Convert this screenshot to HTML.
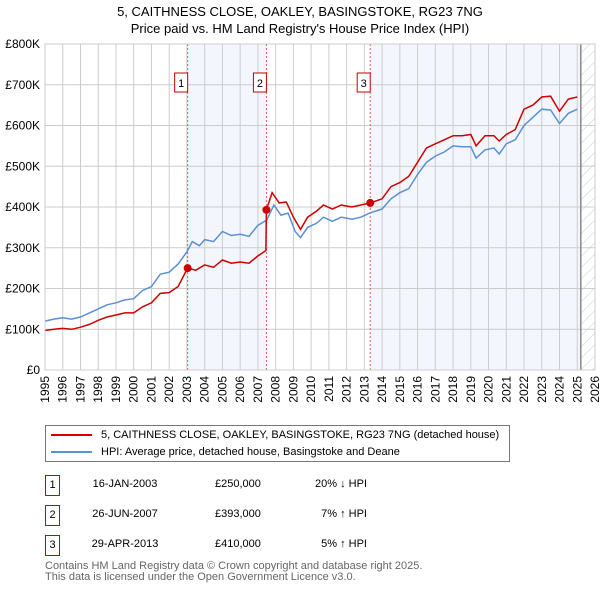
<!DOCTYPE html>
<html><head><meta charset="utf-8">
<style>
body{margin:0;background:#fff;font-family:"Liberation Sans","DejaVu Sans",sans-serif;}
#wrap{position:relative;width:600px;height:590px;overflow:hidden}
.t{position:absolute;font-size:12px;color:#000}
</style></head><body>
<div id="wrap">
<div class="t" style="left:0;width:600px;top:3px;text-align:center;font-size:13px;line-height:17px">5, CAITHNESS CLOSE, OAKLEY, BASINGSTOKE, RG23 7NG<br>Price paid vs. HM Land Registry's House Price Index (HPI)</div>
<svg id="chart" width="600" height="420" style="position:absolute;left:0;top:0"></svg>
<div style="position:absolute;left:45px;top:425px;width:463px;height:35px;border:1px solid #777;font-size:11px;white-space:nowrap">
 <div style="position:absolute;left:5px;top:3px"><span style="display:inline-block;width:41px;height:2px;background:#cc0000;vertical-align:middle;margin-right:9px"></span>5, CAITHNESS CLOSE, OAKLEY, BASINGSTOKE, RG23 7NG (detached house)</div>
 <div style="position:absolute;left:5px;top:20px"><span style="display:inline-block;width:41px;height:2px;background:#5b8fd6;vertical-align:middle;margin-right:9px"></span>HPI: Average price, detached house, Basingstoke and Deane</div>
</div>
<div id="tbl"></div>
<div class="t" style="left:45px;top:561px;font-size:11px;color:#666;line-height:11px;white-space:nowrap">Contains HM Land Registry data © Crown copyright and database right 2025.<br>This data is licensed under the Open Government Licence v3.0.</div>
</div>
<script>
const hpiYears=[1995,1995.5,1996,1996.5,1997,1997.5,1998,1998.5,1999,1999.5,2000,2000.5,2001,2001.5,2002,2002.5,2003,2003.3,2003.7,2004,2004.5,2005,2005.5,2006,2006.5,2007,2007.5,2007.9,2008.3,2008.7,2009.1,2009.4,2009.8,2010.3,2010.7,2011.2,2011.7,2012.3,2012.8,2013.3,2014,2014.5,2015,2015.5,2016,2016.5,2017,2017.5,2018,2018.5,2019,2019.3,2019.8,2020.3,2020.6,2021,2021.5,2022,2022.5,2023,2023.5,2024,2024.5,2025];
const hpiValues=[120,125,128,125,130,140,150,160,165,172,175,195,205,235,240,260,290,315,305,320,315,340,330,333,328,355,368,405,380,385,340,325,350,360,375,365,375,370,375,385,395,420,435,445,480,510,525,535,550,548,548,520,540,545,530,555,565,600,620,640,638,605,630,640];
const redYears=[1995,1995.5,1996,1996.5,1997,1997.5,1998,1998.5,1999,1999.5,2000,2000.5,2001,2001.5,2002,2002.5,2003.04,2003.5,2004,2004.5,2005,2005.5,2006,2006.5,2007,2007.45,2007.48,2007.8,2008.2,2008.6,2009,2009.4,2009.8,2010.3,2010.7,2011.2,2011.7,2012.3,2012.8,2013.33,2014,2014.5,2015,2015.5,2016,2016.5,2017,2017.5,2018,2018.5,2019,2019.3,2019.8,2020.3,2020.6,2021,2021.5,2022,2022.5,2023,2023.5,2024,2024.5,2025];
const redValues=[97,100,102,100,105,112,122,130,135,140,140,155,165,188,190,205,250,245,258,252,270,262,265,262,280,293,393,435,410,412,375,345,375,390,405,395,405,400,405,410,420,450,460,475,510,545,555,565,575,575,578,550,575,575,562,578,590,640,650,670,672,635,665,670];
const yTicks=[0,100,200,300,400,500,600,700,800];
const yTickLabels=["£0","£100K","£200K","£300K","£400K","£500K","£600K","£700K","£800K"];
const xTicks=[1995,1996,1997,1998,1999,2000,2001,2002,2003,2004,2005,2006,2007,2008,2009,2010,2011,2012,2013,2014,2015,2016,2017,2018,2019,2020,2021,2022,2023,2024,2025,2026];
const saleLabels=["1","2","3"];
const saleYears=[2003.04,2007.48,2013.33];
const saleValues=[250,393,410];
const saleDates=["16-JAN-2003","26-JUN-2007","29-APR-2013"];
const salePrices=["£250,000","£393,000","£410,000"];
const saleHpi=["20% ↓ HPI","7% ↑ HPI","5% ↑ HPI"];

const X0=45,X1=595,Y0=370,Y1=44;
const x=v=>X0+(v-1995)/31*(X1-X0);
const y=v=>Y0-v/800*(Y0-Y1);
const NS="http://www.w3.org/2000/svg";
const svg=document.getElementById('chart');
function mk(t,a,p){const e=document.createElementNS(NS,t);for(const k in a)e.setAttribute(k,a[k]);(p||svg).appendChild(e);return e;}
const defs=mk('defs',{});
const pat=mk('pattern',{id:'hatch',width:8,height:8,patternUnits:'userSpaceOnUse',patternTransform:'rotate(45)'},defs);
mk('line',{x1:0,y1:0,x2:0,y2:8,stroke:'#ccc','stroke-width':1},pat);
let b=mk('rect',{x:x(saleYears[0]),y:Y1,width:x(saleYears[1])-x(saleYears[0]),height:Y0-Y1,fill:'#eef3fc',opacity:0.7});

b=mk('rect',{x:x(saleYears[2]),y:Y1,width:x(2025.2)-x(saleYears[2]),height:Y0-Y1,fill:'#eef3fc',opacity:0.7});

b=mk('rect',{x:x(2025.2),y:Y1,width:X1-x(2025.2),height:Y0-Y1,fill:'url(#hatch)'});

xTicks.forEach(t=>{const l=mk('line',{x1:x(t),x2:x(t),y1:Y1,y2:Y0,stroke:'#ccc'});

const tx=mk('text',{x:0,y:0,'font-size':12,'text-anchor':'end',transform:`translate(${x(t)+4},${Y0+6}) rotate(-90)`});tx.textContent=t;
});
yTicks.forEach((t,i)=>{const l=mk('line',{x1:X0,x2:X1,y1:y(t),y2:y(t),stroke:'#ccc'});

const tx=mk('text',{x:40,y:y(t)+4,'font-size':12,'text-anchor':'end'});tx.textContent=yTickLabels[i];
});
let v=mk('line',{x1:x(2025.2),x2:x(2025.2),y1:Y1,y2:Y0,stroke:'#888','stroke-width':1.5});

saleYears.forEach((s,i)=>{const l=mk('line',{x1:x(s),x2:x(s),y1:Y1,y2:Y0,stroke:'#e06060','stroke-dasharray':'2,2'});

const r=mk('rect',{x:x(s)-13,y:73,width:13,height:19,fill:'#fff',stroke:'#c00'});

const tx=mk('text',{x:x(s)-6.5,y:87,'font-size':11,'text-anchor':'middle'});tx.textContent=saleLabels[i];
});
const path=(xs,vs)=>xs.map((t,i)=>(i?'L':'M')+x(t).toFixed(1)+','+y(vs[i]).toFixed(1)).join('');
let p=mk('path',{d:path(hpiYears,hpiValues),fill:'none',stroke:'#5b8fd6','stroke-width':1.5});

p=mk('path',{d:path(redYears,redValues),fill:'none',stroke:'#cc0000','stroke-width':1.5});

saleYears.forEach((s,i)=>{const c=mk('circle',{cx:x(s),cy:y(saleValues[i]),r:4,fill:'#cc0000'});
});
mk('rect',{x:X0,y:Y1,width:X1-X0,height:Y0-Y1,fill:'none',stroke:'#ccc'});
const tbl=document.getElementById('tbl');
const rowsY=[475,505,535];
saleLabels.forEach((lab,i)=>{
 const r=document.createElement('div');
 
 
 r.style.cssText=`position:absolute;left:0;top:${rowsY[i]}px;width:600px;height:22px;font-size:11px;white-space:nowrap`;
 r.innerHTML=`<span style="position:absolute;left:45px;top:0;width:13px;height:19px;border:1px solid #c00;text-align:center;line-height:19px">${lab}</span><span style="position:absolute;left:85px;width:80px;text-align:center;top:3px">${saleDates[i]}</span><span style="position:absolute;left:215px;top:3px">${salePrices[i]}</span><span style="position:absolute;left:297px;width:70px;text-align:right;top:3px">${saleHpi[i]}</span>`;
 tbl.appendChild(r);
});
</script>
</body></html>
